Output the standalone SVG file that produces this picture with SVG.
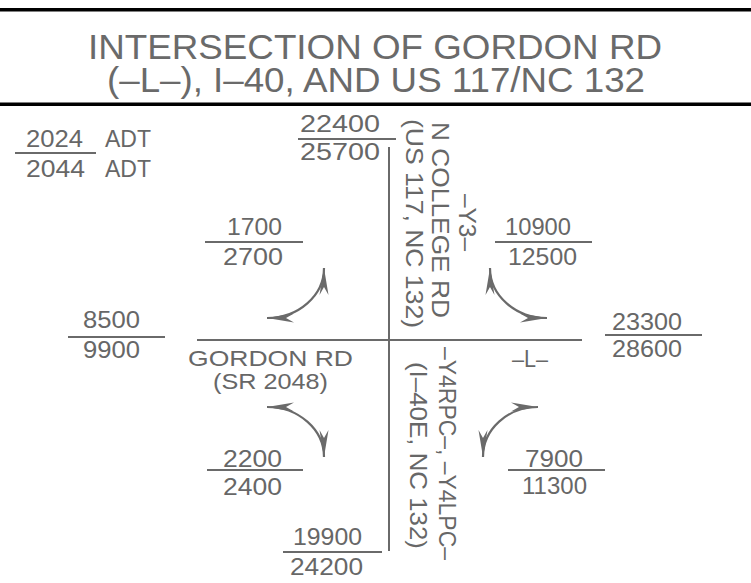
<svg xmlns="http://www.w3.org/2000/svg" width="751" height="583" viewBox="0 0 751 583" xml:space="preserve">
<style>
  .t { font-family: "Liberation Sans", Arial, sans-serif; font-size: 24px; fill: #676767; }
  .s { font-size: 22px; }
  .title { font-family: "Liberation Sans", Arial, sans-serif; font-size: 35px; fill: #6a6a6a; }
  .bar { stroke: #6a6a6a; stroke-width: 2; fill: none; }
  .road { stroke: #6a6a6a; stroke-width: 2; fill: none; }
  .turn { stroke: #6a6a6a; stroke-width: 2.2; fill: none; marker-start: url(#ah); marker-end: url(#ah); }
</style>
<defs>
  <marker id="ah" markerUnits="userSpaceOnUse" viewBox="-28 -6 30 12" refX="0" refY="0" markerWidth="30" markerHeight="12" orient="auto-start-reverse">
    <path d="M0,0 L-27,-4.5 L-19,0 L-27,4.5 Z" fill="#6a6a6a"/>
  </marker>
</defs>
<rect width="751" height="583" fill="#ffffff"/>

<g id="header">
  <rect x="0" y="8" width="751" height="3.5" fill="#000"/>
  <rect x="0" y="102.5" width="751" height="3.5" fill="#000"/>
  <text class="title" x="88" y="59" textLength="574" lengthAdjust="spacingAndGlyphs">INTERSECTION  OF GORDON  RD</text>
  <text class="title" x="107" y="92" textLength="538" lengthAdjust="spacingAndGlyphs">(–L–), I–40, AND  US 117/NC  132</text>
</g>

<g id="legend">
  <text class="t" x="26" y="147" textLength="57" lengthAdjust="spacingAndGlyphs">2024</text>
  <text class="t" x="105" y="147" textLength="46" lengthAdjust="spacingAndGlyphs">ADT</text>
  <line class="bar" x1="15" y1="153" x2="96" y2="153"/>
  <text class="t" x="26" y="177" textLength="59" lengthAdjust="spacingAndGlyphs">2044</text>
  <text class="t" x="105" y="177" textLength="46" lengthAdjust="spacingAndGlyphs">ADT</text>
</g>

<g id="connectors">
  <line class="road" x1="197" y1="340" x2="582" y2="340"/>
  <line class="road" x1="389" y1="147" x2="389" y2="551"/>
  <path class="turn" d="M324,268 A57,50 0 0 1 267,318"/>
  <path class="turn" d="M490,268 A57,50 0 0 0 547,318"/>
  <path class="turn" d="M267,407 A57,50 0 0 1 324,457"/>
  <path class="turn" d="M538,407 A55,50 0 0 0 483,457"/>
</g>

<g id="north-volume">
  <text class="t" x="300" y="132" textLength="80" lengthAdjust="spacingAndGlyphs">22400</text>
  <line class="bar" x1="298" y1="139" x2="396" y2="139"/>
  <text class="t" x="300" y="160" textLength="80" lengthAdjust="spacingAndGlyphs">25700</text>
</g>

<g id="nw-turn">
  <text class="t" x="227" y="235" textLength="55" lengthAdjust="spacingAndGlyphs">1700</text>
  <line class="bar" x1="205" y1="242" x2="303" y2="242"/>
  <text class="t" x="223" y="265" textLength="60" lengthAdjust="spacingAndGlyphs">2700</text>
</g>

<g id="ne-turn">
  <text class="t" x="505" y="235" textLength="66" lengthAdjust="spacingAndGlyphs">10900</text>
  <line class="bar" x1="495" y1="242" x2="592" y2="242"/>
  <text class="t" x="508" y="265" textLength="69" lengthAdjust="spacingAndGlyphs">12500</text>
</g>

<g id="west-volume">
  <text class="t" x="83" y="328" textLength="57" lengthAdjust="spacingAndGlyphs">8500</text>
  <line class="bar" x1="68" y1="337" x2="165" y2="337"/>
  <text class="t" x="83" y="358" textLength="57" lengthAdjust="spacingAndGlyphs">9900</text>
</g>

<g id="east-volume">
  <text class="t" x="612" y="330" textLength="70" lengthAdjust="spacingAndGlyphs">23300</text>
  <line class="bar" x1="605" y1="335" x2="702" y2="335"/>
  <text class="t" x="612" y="357" textLength="70" lengthAdjust="spacingAndGlyphs">28600</text>
</g>

<g id="gordon-rd-label">
  <text class="t s" x="188" y="366" textLength="165" lengthAdjust="spacingAndGlyphs">GORDON  RD</text>
  <text class="t s" x="213" y="389" textLength="115" lengthAdjust="spacingAndGlyphs">(SR  2048)</text>
</g>

<g id="l-label">
  <text class="t" x="512" y="367" textLength="36" lengthAdjust="spacingAndGlyphs">–L–</text>
</g>

<g id="y3-label">
  <text class="t" transform="translate(432,122) rotate(90)" x="0" y="0" textLength="196" lengthAdjust="spacingAndGlyphs">N  COLLEGE  RD</text>
  <text class="t" transform="translate(406,119) rotate(90)" x="0" y="0" textLength="209" lengthAdjust="spacingAndGlyphs">(US  117,  NC  132)</text>
  <text class="t" transform="translate(459,194) rotate(90)" x="0" y="0" textLength="57" lengthAdjust="spacingAndGlyphs">–Y3–</text>
</g>

<g id="y4-label">
  <text class="t" transform="translate(439,347) rotate(90)" x="0" y="0" textLength="213" lengthAdjust="spacingAndGlyphs">–Y4RPC–,  –Y4LPC–</text>
  <text class="t" transform="translate(410,362) rotate(90)" x="0" y="0" textLength="187" lengthAdjust="spacingAndGlyphs">(I–40E,  NC  132)</text>
</g>

<g id="sw-turn">
  <text class="t" x="223" y="467" textLength="59" lengthAdjust="spacingAndGlyphs">2200</text>
  <line class="bar" x1="207" y1="470" x2="303" y2="470"/>
  <text class="t" x="223" y="495" textLength="59" lengthAdjust="spacingAndGlyphs">2400</text>
</g>

<g id="se-turn">
  <text class="t" x="525" y="467" textLength="58" lengthAdjust="spacingAndGlyphs">7900</text>
  <line class="bar" x1="508" y1="470" x2="605" y2="470"/>
  <text class="t" x="522" y="494" textLength="65" lengthAdjust="spacingAndGlyphs">11300</text>
</g>

<g id="south-volume">
  <text class="t" x="293" y="545" textLength="69" lengthAdjust="spacingAndGlyphs">19900</text>
  <line class="bar" x1="283" y1="552" x2="382" y2="552"/>
  <text class="t" x="290" y="575" textLength="73" lengthAdjust="spacingAndGlyphs">24200</text>
</g>
</svg>
